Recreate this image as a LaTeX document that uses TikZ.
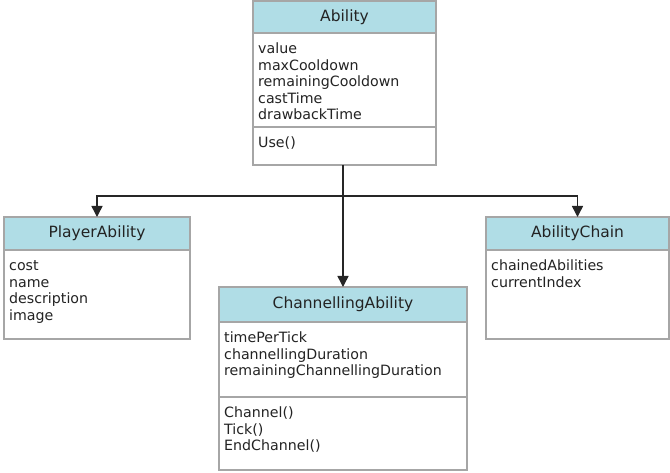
\documentclass[tikz,border=0pt]{standalone}
\usepackage{fontspec}
\setmainfont{DejaVu Sans}
\usetikzlibrary{positioning,arrows.meta}
\definecolor{headblue}{RGB}{176,221,230}
\definecolor{boxgray}{RGB}{166,166,166}
\definecolor{textgray}{RGB}{35,35,35}

\begin{document}
\begin{tikzpicture}[x=1pt, y=1pt,
  head/.style={draw=boxgray, fill=headblue, line width=1.5pt, anchor=north west,
    inner sep=0pt, outer sep=0pt, font=\fontsize{15.5}{18}\selectfont, text=textgray},
  part/.style={draw=boxgray, fill=white, line width=1.5pt, inner sep=0pt, outer sep=0pt},
  members/.style={anchor=north west, align=left, inner xsep=5pt, inner ysep=9pt,
    font=\fontsize{14.2}{16.5}\selectfont, text=textgray},
  link/.style={-{Triangle[length=11pt,width=11pt]}, line width=1.5pt, draw=black!85},
  >=Stealth
]
  \useasboundingbox (0,0) rectangle (670,-473);

  % Ability
  \node[head, minimum width=183, minimum height=32] (abilityH) at (253,-1) {Ability};
  \node[part, minimum width=183, minimum height=94, below=0pt of abilityH] (abilityA) {};
  \node[members] (abilityAtt) at (abilityA.north west)
    {\strut value\\maxCooldown\\remainingCooldown\\castTime\\drawbackTime};
  \node[part, minimum width=183, minimum height=38, below=0pt of abilityA] (abilityM) {};
  \node[members] (abilityOps) at (abilityM.north west) {\strut Use()};

  % PlayerAbility
  \node[head, minimum width=186, minimum height=33] (playerH) at (4,-217) {PlayerAbility};
  \node[part, minimum width=186, minimum height=89, below=0pt of playerH] (playerA) {};
  \node[members] (playerAtt) at (playerA.north west)
    {\strut cost\\name\\description\\image};

  % AbilityChain
  \node[head, minimum width=183, minimum height=33] (chainH) at (486,-217) {AbilityChain};
  \node[part, minimum width=183, minimum height=89, below=0pt of chainH] (chainA) {};
  \node[members] (chainAtt) at (chainA.north west)
    {\strut chainedAbilities\\currentIndex};

  % ChannellingAbility
  \node[head, minimum width=248, minimum height=35] (chanH) at (219,-287) {ChannellingAbility};
  \node[part, minimum width=248, minimum height=75, below=0pt of chanH] (chanA) {};
  \node[members] (chanAtt) at (chanA.north west)
    {\strut timePerTick\\channellingDuration\\remainingChannellingDuration};
  \node[part, minimum width=248, minimum height=73, below=0pt of chanA] (chanM) {};
  \node[members] (chanOps) at (chanM.north west)
    {\strut Channel()\\Tick()\\EndChannel()};

  % inheritance
  \coordinate (fork) at (chanH.north |- 0,-196);
  \draw[link] (abilityM.south -| chanH.north) -- (chanH.north);
  \draw[link] (fork) -| (playerH.north);
  \draw[link] (fork) -| (chainH.north);
\end{tikzpicture}
\end{document}
